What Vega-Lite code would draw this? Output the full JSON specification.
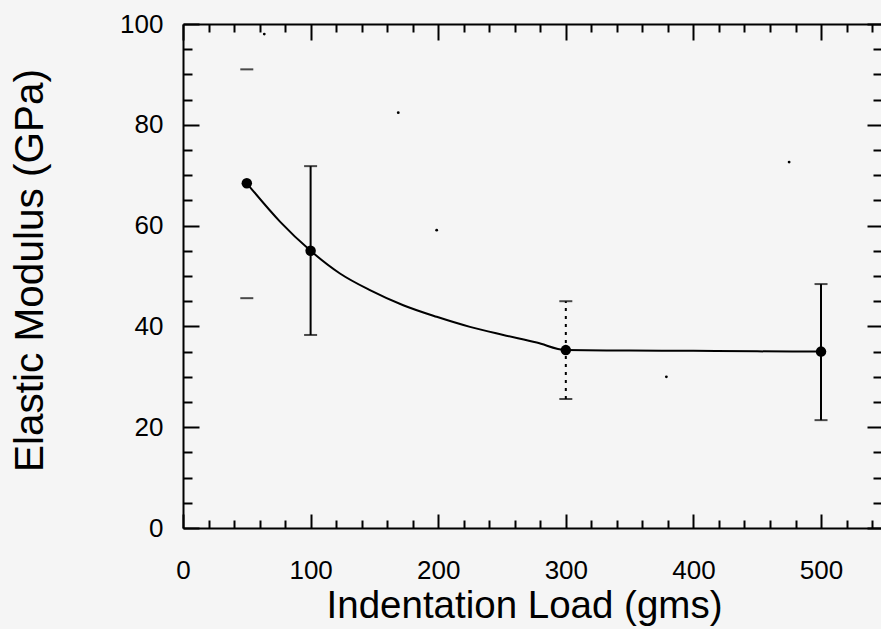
{
  "$schema": "https://vega.github.io/schema/vega-lite/v6.json",
  "width": 698,
  "height": 504,
  "autosize": {"type": "none"},
  "padding": {"left": 183, "top": 24, "right": 0, "bottom": 101},
  "background": "#f5f5f5",
  "config": {
    "view": {"stroke": null},
    "axis": {"grid": false, "domainColor": "#000", "domainWidth": 2, "tickColor": "#000", "tickWidth": 2, "labelColor": "#000", "titleColor": "#000", "labelFont": "Liberation Sans", "titleFont": "Liberation Sans", "labelFontSize": 26, "titleFontWeight": "normal"}
  },
  "datasets": {
    "pts": [
      {"x": 50, "y": 68.4, "lo": 45.6, "hi": 91.0},
      {"x": 100, "y": 55.0, "lo": 38.3, "hi": 71.8},
      {"x": 300, "y": 35.3, "lo": 25.6, "hi": 45.0},
      {"x": 500, "y": 35.0, "lo": 21.4, "hi": 48.4}
    ],
    "curve": [
      {"x": 50, "y": 68.4}, {"x": 76, "y": 60.8}, {"x": 100, "y": 55.0}, {"x": 123, "y": 50.5},
      {"x": 146.5, "y": 47.2}, {"x": 172.6, "y": 44.2}, {"x": 198.8, "y": 41.9}, {"x": 224.9, "y": 39.9},
      {"x": 251, "y": 38.3}, {"x": 277.2, "y": 36.8}, {"x": 300, "y": 35.3}, {"x": 350, "y": 35.2},
      {"x": 400, "y": 35.15}, {"x": 450, "y": 35.05}, {"x": 500, "y": 35.0}
    ],
    "specks": [
      {"x": 63.7, "y": 98.0}, {"x": 168.7, "y": 82.4}, {"x": 198.8, "y": 59.1}, {"x": 378.8, "y": 30.0}, {"x": 475, "y": 72.6}
    ]
  },
  "resolve": {"axis": {"x": "independent", "y": "independent"}},
  "layer": [
    {
      "data": {"name": "curve"},
      "mark": {"type": "line", "color": "#000", "strokeWidth": 2, "interpolate": "monotone"},
      "encoding": {
        "x": {"field": "x", "type": "quantitative", "scale": {"domain": [0, 547], "nice": false, "zero": false},
          "axis": {"orient": "bottom", "values": [0, 100, 200, 300, 400, 500], "tickSize": -14, "labelPadding": 43, "labelAngle": 0, "labelFlush": false,
            "title": "Indentation Load (gms)", "titleFontSize": 38.5, "titleX": 341, "titleY": 89, "titleAlign": "center", "titleBaseline": "alphabetic", "titleAnchor": null}},
        "y": {"field": "y", "type": "quantitative", "scale": {"domain": [0, 100], "nice": false},
          "axis": {"orient": "left", "values": [0, 20, 40, 60, 80, 100], "tickSize": -16, "labelPadding": 36, "labelFlush": false,
            "title": "Elastic Modulus (GPa)", "titleFontSize": 40.5, "titleX": -141, "titleY": 246, "titleAngle": -90, "titleAlign": "center", "titleBaseline": "alphabetic", "titleAnchor": null}}
      }
    },
    {
      "data": {"name": "pts"},
      "transform": [{"filter": "datum.x == 100 || datum.x == 500"}],
      "mark": {"type": "rule", "color": "#000", "strokeWidth": 2},
      "encoding": {
        "x": {"field": "x", "type": "quantitative",
          "axis": {"orient": "bottom", "values": [20, 40, 60, 80, 120, 140, 160, 180, 220, 240, 260, 280, 320, 340, 360, 380, 420, 440, 460, 480, 520, 540], "tickSize": -8, "labels": false, "domain": false, "title": null}},
        "y": {"field": "lo", "type": "quantitative",
          "axis": {"orient": "left", "values": [5, 10, 15, 25, 30, 35, 45, 50, 55, 65, 70, 75, 85, 90, 95], "tickSize": -9, "labels": false, "domain": false, "title": null}},
        "y2": {"field": "hi"}
      }
    },
    {
      "data": {"name": "pts"},
      "transform": [{"filter": "datum.x == 300"}],
      "mark": {"type": "rule", "color": "#000", "strokeWidth": 2, "strokeDash": [3, 5]},
      "encoding": {
        "x": {"field": "x", "type": "quantitative",
          "axis": {"orient": "top", "values": [0, 100, 200, 300, 400, 500], "tickSize": -16, "labels": false, "domain": true, "title": null}},
        "y": {"field": "lo", "type": "quantitative",
          "axis": {"orient": "right", "values": [0, 20, 40, 60, 80, 100], "tickSize": -14, "labels": false, "domain": false, "title": null}},
        "y2": {"field": "hi"}
      }
    },
    {
      "data": {"name": "pts"},
      "transform": [{"fold": ["lo", "hi"], "as": ["end", "v"]}],
      "mark": {"type": "tick", "color": "#000", "orient": "horizontal", "size": 13, "thickness": 2},
      "encoding": {
        "x": {"field": "x", "type": "quantitative",
          "axis": {"orient": "top", "values": [20, 40, 60, 80, 120, 140, 160, 180, 220, 240, 260, 280, 320, 340, 360, 380, 420, 440, 460, 480, 520, 540], "tickSize": -8, "labels": false, "domain": false, "title": null}},
        "y": {"field": "v", "type": "quantitative",
          "axis": {"orient": "right", "values": [5, 10, 15, 25, 30, 35, 45, 50, 55, 65, 70, 75, 85, 90, 95], "tickSize": -8, "labels": false, "domain": false, "title": null}}
      }
    },
    {
      "data": {"name": "pts"},
      "mark": {"type": "point", "filled": true, "color": "#000", "size": 110, "opacity": 1},
      "encoding": {
        "x": {"field": "x", "type": "quantitative", "axis": null},
        "y": {"field": "y", "type": "quantitative", "axis": null}
      }
    },
    {
      "data": {"name": "specks"},
      "mark": {"type": "point", "filled": true, "color": "#000", "size": 8, "opacity": 1},
      "encoding": {
        "x": {"field": "x", "type": "quantitative", "axis": null},
        "y": {"field": "y", "type": "quantitative", "axis": null}
      }
    }
  ]
}
